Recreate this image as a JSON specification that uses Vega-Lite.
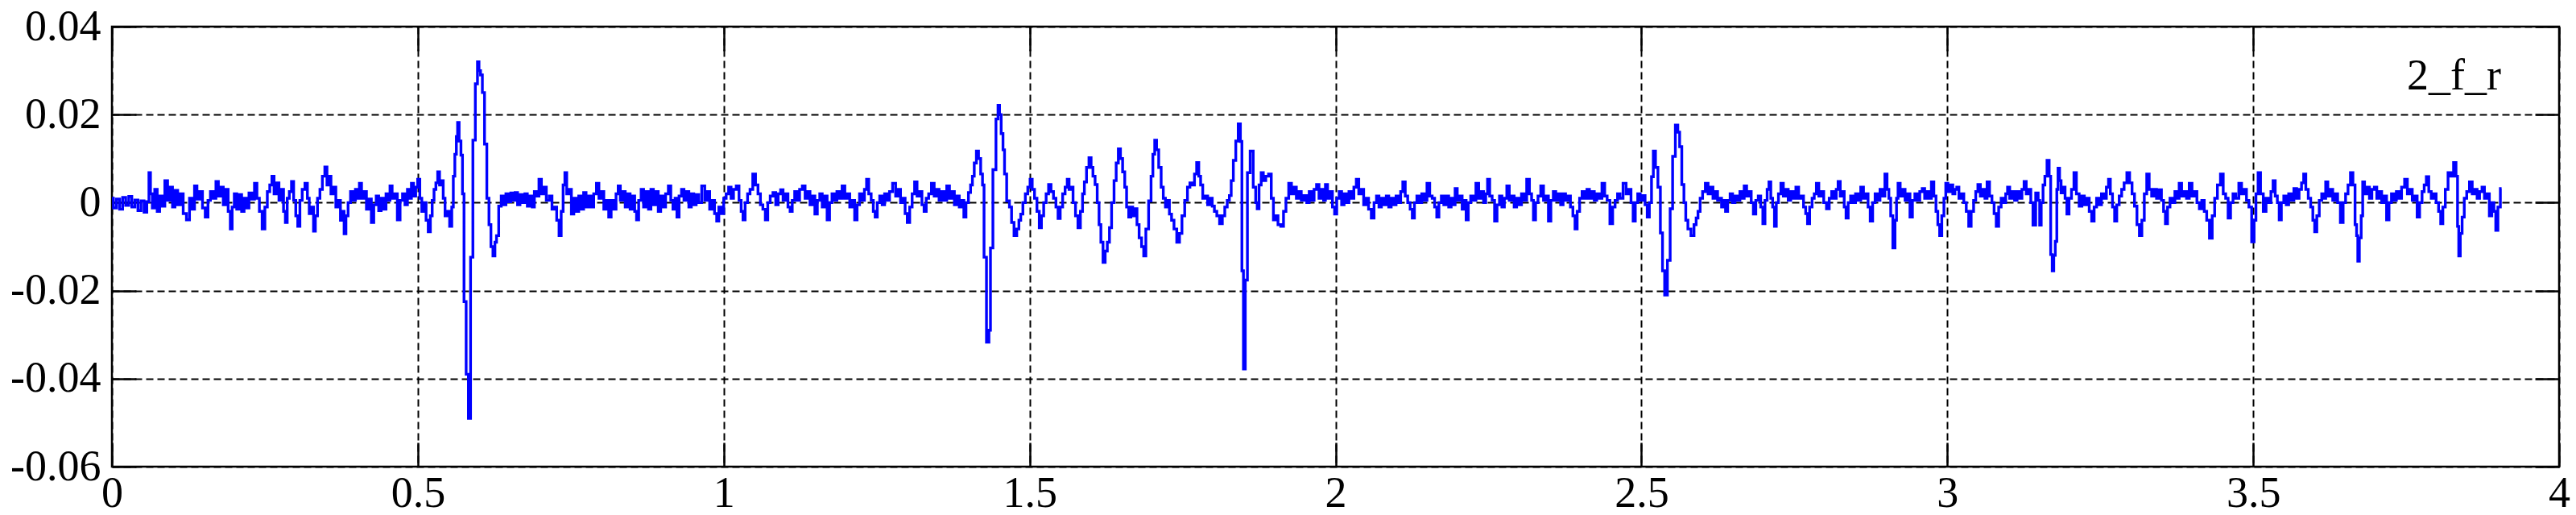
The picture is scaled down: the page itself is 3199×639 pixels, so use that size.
{
"$schema": "https://vega.github.io/schema/vega-lite/v6.json",
"width": 3039, "height": 546,
"autosize": {"type": "none"},
"padding": {"left": 139, "top": 33, "right": 21, "bottom": 60},
"background": "white",
"config": {"view": {"stroke": "black", "strokeWidth": 2.5}},
"data": {"values": [
{"t":0.000,"v":0.0010},{"t":0.005,"v":-0.0012},{"t":0.010,"v":0.0008},{"t":0.015,"v":-0.0015},{"t":0.020,"v":0.0012},{"t":0.025,"v":-0.0006},{"t":0.030,"v":0.0014},{"t":0.035,"v":-0.0010},{"t":0.040,"v":0.0006},{"t":0.045,"v":-0.0018},{"t":0.050,"v":0.0004},{"t":0.055,"v":-0.0022},{"t":0.059,"v":0.0002},{"t":0.062,"v":0.0068},{"t":0.064,"v":0.0020},{"t":0.068,"v":-0.0012},{"t":0.072,"v":0.0030},{"t":0.076,"v":-0.0020},{"t":0.080,"v":0.0015},{"t":0.084,"v":-0.0008},{"t":0.089,"v":0.0050},{"t":0.093,"v":0.0005},{"t":0.097,"v":0.0035},{"t":0.101,"v":-0.0010},{"t":0.105,"v":0.0028},{"t":0.110,"v":-0.0005},{"t":0.114,"v":0.0020},{"t":0.119,"v":-0.0025},{"t":0.1246,"v":-0.0039},{"t":0.129,"v":0.0010},{"t":0.133,"v":-0.0015},{"t":0.137,"v":0.0038},{"t":0.141,"v":0.0008},{"t":0.146,"v":0.0025},{"t":0.150,"v":-0.0012},{"t":0.155,"v":-0.0033},{"t":0.159,"v":0.0005},{"t":0.163,"v":0.0025},{"t":0.168,"v":0.0010},{"t":0.172,"v":0.0048},{"t":0.176,"v":0.0015},{"t":0.180,"v":0.0035},{"t":0.184,"v":-0.0005},{"t":0.188,"v":0.0030},{"t":0.192,"v":-0.0020},{"t":0.195,"v":-0.0060},{"t":0.198,"v":-0.0010},{"t":0.202,"v":0.0020},{"t":0.206,"v":-0.0015},{"t":0.210,"v":0.0018},{"t":0.214,"v":-0.0020},{"t":0.218,"v":0.0010},{"t":0.222,"v":-0.0012},{"t":0.226,"v":0.0022},{"t":0.231,"v":0.0008},{"t":0.235,"v":0.0044},{"t":0.239,"v":0.0010},{"t":0.243,"v":-0.0020},{"t":0.248,"v":-0.0060},{"t":0.252,"v":-0.0010},{"t":0.256,"v":0.0025},{"t":0.260,"v":0.0040},{"t":0.263,"v":0.0060},{"t":0.267,"v":0.0020},{"t":0.271,"v":0.0045},{"t":0.275,"v":0.0005},{"t":0.279,"v":0.0030},{"t":0.282,"v":-0.0020},{"t":0.285,"v":-0.0045},{"t":0.288,"v":0.0010},{"t":0.292,"v":0.0025},{"t":0.295,"v":0.0048},{"t":0.299,"v":0.0005},{"t":0.302,"v":-0.0030},{"t":0.3055,"v":-0.0054},{"t":0.309,"v":0.0005},{"t":0.313,"v":0.0030},{"t":0.318,"v":0.0044},{"t":0.321,"v":0.0010},{"t":0.324,"v":-0.0025},{"t":0.328,"v":-0.0010},{"t":0.331,"v":-0.0065},{"t":0.334,"v":-0.0030},{"t":0.338,"v":0.0010},{"t":0.342,"v":0.0030},{"t":0.346,"v":0.0060},{"t":0.350,"v":0.0081},{"t":0.353,"v":0.0040},{"t":0.356,"v":0.0060},{"t":0.360,"v":0.0020},{"t":0.364,"v":0.0035},{"t":0.368,"v":-0.0010},{"t":0.372,"v":0.0005},{"t":0.375,"v":-0.0040},{"t":0.378,"v":-0.0020},{"t":0.381,"v":-0.0071},{"t":0.384,"v":-0.0030},{"t":0.388,"v":0.0000},{"t":0.392,"v":0.0025},{"t":0.396,"v":0.0005},{"t":0.400,"v":0.0030},{"t":0.403,"v":0.0010},{"t":0.406,"v":0.0044},{"t":0.410,"v":0.0010},{"t":0.414,"v":0.0025},{"t":0.418,"v":-0.0015},{"t":0.422,"v":0.0008},{"t":0.426,"v":-0.0045},{"t":0.430,"v":-0.0005},{"t":0.434,"v":0.0015},{"t":0.438,"v":-0.0018},{"t":0.442,"v":0.0010},{"t":0.446,"v":-0.0015},{"t":0.450,"v":0.0020},{"t":0.453,"v":0.0005},{"t":0.456,"v":0.0038},{"t":0.460,"v":0.0010},{"t":0.464,"v":0.0020},{"t":0.469,"v":-0.0039},{"t":0.473,"v":0.0005},{"t":0.477,"v":0.0020},{"t":0.481,"v":-0.0005},{"t":0.485,"v":0.0030},{"t":0.488,"v":0.0010},{"t":0.491,"v":0.0044},{"t":0.495,"v":0.0015},{"t":0.498,"v":0.0035},{"t":0.5015,"v":0.0053},{"t":0.505,"v":0.0010},{"t":0.508,"v":-0.0020},{"t":0.512,"v":0.0000},{"t":0.515,"v":-0.0040},{"t":0.519,"v":-0.0066},{"t":0.522,"v":-0.0030},{"t":0.525,"v":0.0005},{"t":0.528,"v":0.0030},{"t":0.531,"v":0.0045},{"t":0.534,"v":0.0070},{"t":0.537,"v":0.0040},{"t":0.540,"v":0.0050},{"t":0.543,"v":0.0010},{"t":0.546,"v":-0.0030},{"t":0.550,"v":-0.0020},{"t":0.554,"v":-0.0054},{"t":0.557,"v":-0.0010},{"t":0.559,"v":0.0060},{"t":0.562,"v":0.0110},{"t":0.564,"v":0.0150},{"t":0.566,"v":0.0182},{"t":0.569,"v":0.0140},{"t":0.572,"v":0.0108},{"t":0.574,"v":0.0020},{"t":0.577,"v":-0.0225},{"t":0.581,"v":-0.0390},{"t":0.5844,"v":-0.0490},{"t":0.588,"v":-0.0124},{"t":0.592,"v":0.0142},{"t":0.596,"v":0.0270},{"t":0.599,"v":0.0320},{"t":0.601,"v":0.0300},{"t":0.604,"v":0.0290},{"t":0.607,"v":0.0250},{"t":0.611,"v":0.0133},{"t":0.6146,"v":0.0010},{"t":0.618,"v":-0.0050},{"t":0.621,"v":-0.0100},{"t":0.6246,"v":-0.0121},{"t":0.6275,"v":-0.0090},{"t":0.6297,"v":-0.0075},{"t":0.6347,"v":-0.0008},{"t":0.638,"v":0.0015},{"t":0.642,"v":-0.0005},{"t":0.646,"v":0.0020},{"t":0.650,"v":0.0002},{"t":0.654,"v":0.0022},{"t":0.657,"v":0.0005},{"t":0.661,"v":0.0023},{"t":0.665,"v":-0.0005},{"t":0.669,"v":0.0018},{"t":0.673,"v":0.0000},{"t":0.677,"v":0.0020},{"t":0.681,"v":-0.0008},{"t":0.685,"v":0.0015},{"t":0.689,"v":-0.0010},{"t":0.692,"v":0.0025},{"t":0.696,"v":0.0015},{"t":0.700,"v":0.0053},{"t":0.704,"v":0.0020},{"t":0.708,"v":0.0035},{"t":0.712,"v":0.0005},{"t":0.7176,"v":0.0015},{"t":0.721,"v":-0.0015},{"t":0.725,"v":-0.0010},{"t":0.729,"v":-0.0040},{"t":0.7327,"v":-0.0075},{"t":0.736,"v":-0.0020},{"t":0.739,"v":0.0040},{"t":0.7417,"v":0.0068},{"t":0.745,"v":0.0020},{"t":0.749,"v":0.0030},{"t":0.753,"v":-0.0026},{"t":0.757,"v":0.0010},{"t":0.761,"v":-0.0020},{"t":0.765,"v":0.0015},{"t":0.769,"v":-0.0015},{"t":0.773,"v":0.0023},{"t":0.777,"v":-0.0010},
{"t":0.781,"v":0.0015},{"t":0.785,"v":-0.0010},{"t":0.790,"v":0.0020},{"t":0.794,"v":0.0044},{"t":0.798,"v":0.0010},{"t":0.802,"v":0.0025},{"t":0.806,"v":-0.0015},{"t":0.810,"v":0.0005},{"t":0.814,"v":-0.0033},{"t":0.818,"v":0.0005},{"t":0.822,"v":-0.0015},{"t":0.826,"v":0.0020},{"t":0.829,"v":0.0038},{"t":0.833,"v":0.0005},{"t":0.837,"v":0.0025},{"t":0.841,"v":-0.0010},{"t":0.845,"v":0.0020},{"t":0.849,"v":-0.0015},{"t":0.853,"v":0.0015},{"t":0.856,"v":-0.0020},{"t":0.859,"v":-0.0039},{"t":0.863,"v":0.0005},{"t":0.867,"v":0.0030},{"t":0.871,"v":-0.0010},{"t":0.875,"v":0.0025},{"t":0.879,"v":-0.0015},{"t":0.883,"v":0.0030},{"t":0.887,"v":-0.0005},{"t":0.891,"v":0.0025},{"t":0.895,"v":-0.0020},{"t":0.899,"v":0.0015},{"t":0.903,"v":-0.0010},{"t":0.907,"v":0.0020},{"t":0.912,"v":0.0038},{"t":0.915,"v":0.0005},{"t":0.919,"v":-0.0015},{"t":0.922,"v":0.0010},{"t":0.925,"v":-0.0033},{"t":0.929,"v":0.0015},{"t":0.933,"v":0.0030},{"t":0.937,"v":0.0005},{"t":0.941,"v":0.0025},{"t":0.945,"v":-0.0010},{"t":0.949,"v":0.0020},{"t":0.953,"v":-0.0005},{"t":0.957,"v":0.0018},{"t":0.961,"v":0.0000},{"t":0.967,"v":0.0038},{"t":0.971,"v":0.0005},{"t":0.975,"v":0.0025},{"t":0.979,"v":-0.0015},{"t":0.983,"v":0.0005},{"t":0.987,"v":-0.0025},{"t":0.990,"v":-0.0042},{"t":0.994,"v":-0.0010},{"t":0.998,"v":-0.0025},{"t":1.002,"v":0.0010},{"t":1.006,"v":0.0020},{"t":1.010,"v":0.0035},{"t":1.014,"v":0.0010},{"t":1.018,"v":0.0030},{"t":1.023,"v":0.0038},{"t":1.027,"v":0.0005},{"t":1.030,"v":-0.0020},{"t":1.033,"v":-0.0039},{"t":1.037,"v":0.0000},{"t":1.041,"v":0.0020},{"t":1.045,"v":0.0030},{"t":1.050,"v":0.0065},{"t":1.054,"v":0.0040},{"t":1.058,"v":0.0020},{"t":1.062,"v":-0.0005},{"t":1.066,"v":-0.0015},{"t":1.070,"v":-0.0039},{"t":1.074,"v":0.0000},{"t":1.078,"v":0.0015},{"t":1.083,"v":0.0023},{"t":1.087,"v":-0.0005},{"t":1.091,"v":0.0020},{"t":1.095,"v":0.0029},{"t":1.099,"v":0.0005},{"t":1.103,"v":0.0020},{"t":1.107,"v":-0.0010},{"t":1.110,"v":-0.0020},{"t":1.114,"v":0.0005},{"t":1.118,"v":0.0025},{"t":1.122,"v":0.0005},{"t":1.126,"v":0.0030},{"t":1.131,"v":0.0038},{"t":1.135,"v":0.0010},{"t":1.139,"v":0.0025},{"t":1.143,"v":-0.0005},{"t":1.147,"v":0.0015},{"t":1.151,"v":-0.0026},{"t":1.155,"v":0.0005},{"t":1.159,"v":0.0020},{"t":1.163,"v":-0.0010},{"t":1.167,"v":0.0015},{"t":1.171,"v":-0.0039},{"t":1.175,"v":0.0000},{"t":1.179,"v":0.0020},{"t":1.183,"v":0.0005},{"t":1.187,"v":0.0025},{"t":1.191,"v":0.0010},{"t":1.196,"v":0.0038},{"t":1.200,"v":0.0010},{"t":1.204,"v":0.0020},{"t":1.208,"v":-0.0010},{"t":1.212,"v":0.0005},{"t":1.216,"v":-0.0039},{"t":1.220,"v":-0.0005},{"t":1.224,"v":0.0020},{"t":1.228,"v":0.0005},{"t":1.232,"v":0.0030},{"t":1.235,"v":0.0053},{"t":1.239,"v":0.0020},{"t":1.243,"v":0.0005},{"t":1.246,"v":-0.0020},{"t":1.249,"v":-0.0033},{"t":1.253,"v":0.0000},{"t":1.257,"v":0.0015},{"t":1.261,"v":-0.0005},{"t":1.265,"v":0.0020},{"t":1.269,"v":0.0005},{"t":1.273,"v":0.0025},{"t":1.279,"v":0.0044},{"t":1.283,"v":0.0015},{"t":1.287,"v":0.0030},{"t":1.291,"v":0.0000},{"t":1.295,"v":0.0010},{"t":1.298,"v":-0.0025},{"t":1.302,"v":-0.0045},{"t":1.306,"v":-0.0010},{"t":1.310,"v":0.0020},{"t":1.314,"v":0.0047},{"t":1.318,"v":0.0015},{"t":1.322,"v":0.0025},{"t":1.326,"v":-0.0005},{"t":1.329,"v":-0.0020},{"t":1.333,"v":0.0010},{"t":1.337,"v":0.0020},{"t":1.342,"v":0.0044},{"t":1.346,"v":0.0015},{"t":1.350,"v":0.0030},{"t":1.354,"v":0.0005},{"t":1.358,"v":0.0025},{"t":1.362,"v":0.0005},{"t":1.367,"v":0.0038},{"t":1.371,"v":0.0010},{"t":1.375,"v":0.0025},{"t":1.379,"v":-0.0005},{"t":1.383,"v":0.0015},{"t":1.387,"v":-0.0010},{"t":1.391,"v":0.0005},{"t":1.394,"v":-0.0033},{"t":1.398,"v":0.0000},{"t":1.402,"v":0.0023},{"t":1.405,"v":0.0040},{"t":1.408,"v":0.0060},{"t":1.411,"v":0.0090},{"t":1.415,"v":0.0117},{"t":1.418,"v":0.0100},{"t":1.422,"v":0.0065},{"t":1.424,"v":0.0040},{"t":1.427,"v":-0.0124},{"t":1.432,"v":-0.0317},{"t":1.435,"v":-0.0290},{"t":1.437,"v":-0.0103},{"t":1.443,"v":0.0075},{"t":1.447,"v":0.0190},{"t":1.4497,"v":0.0221},{"t":1.452,"v":0.0200},{"t":1.455,"v":0.0157},{"t":1.458,"v":0.0120},{"t":1.460,"v":0.0065},{"t":1.465,"v":0.0004},{"t":1.469,"v":-0.0010},{"t":1.472,"v":-0.0045},{"t":1.477,"v":-0.0075},{"t":1.481,"v":-0.0060},{"t":1.484,"v":-0.0040},{"t":1.487,"v":-0.0026},{"t":1.491,"v":0.0000},{"t":1.495,"v":0.0020},{"t":1.499,"v":0.0035},{"t":1.5025,"v":0.0053},{"t":1.506,"v":0.0030},{"t":1.510,"v":0.0010},{"t":1.514,"v":-0.0020},{"t":1.5176,"v":-0.0057},{"t":1.521,"v":-0.0030},{"t":1.525,"v":0.0000},{"t":1.529,"v":0.0020},{"t":1.533,"v":0.0041},{"t":1.537,"v":0.0025},{"t":1.541,"v":0.0010},{"t":1.545,"v":-0.0010},{"t":1.548,"v":-0.0036},{"t":1.552,"v":-0.0010},{"t":1.556,"v":0.0020},{"t":1.560,"v":0.0035},{"t":1.563,"v":0.0053},
{"t":1.566,"v":0.0030},{"t":1.569,"v":0.0035},{"t":1.573,"v":0.0000},{"t":1.577,"v":-0.0030},{"t":1.581,"v":-0.0057},{"t":1.585,"v":-0.0020},{"t":1.588,"v":0.0020},{"t":1.591,"v":0.0047},{"t":1.595,"v":0.0080},{"t":1.599,"v":0.0102},{"t":1.602,"v":0.0080},{"t":1.605,"v":0.0060},{"t":1.609,"v":0.0041},{"t":1.612,"v":0.0000},{"t":1.615,"v":-0.0050},{"t":1.618,"v":-0.0090},{"t":1.622,"v":-0.0136},{"t":1.625,"v":-0.0110},{"t":1.629,"v":-0.0090},{"t":1.632,"v":-0.0057},{"t":1.636,"v":0.0000},{"t":1.640,"v":0.0050},{"t":1.643,"v":0.0090},{"t":1.647,"v":0.0122},{"t":1.650,"v":0.0100},{"t":1.654,"v":0.0070},{"t":1.657,"v":0.0035},{"t":1.660,"v":-0.0010},{"t":1.664,"v":-0.0033},{"t":1.667,"v":-0.0010},{"t":1.670,"v":-0.0030},{"t":1.674,"v":-0.0014},{"t":1.677,"v":-0.0050},{"t":1.681,"v":-0.0080},{"t":1.685,"v":-0.0100},{"t":1.688,"v":-0.0121},{"t":1.692,"v":-0.0060},{"t":1.697,"v":0.0004},{"t":1.700,"v":0.0060},{"t":1.703,"v":0.0110},{"t":1.706,"v":0.0142},{"t":1.709,"v":0.0120},{"t":1.713,"v":0.0080},{"t":1.717,"v":0.0035},{"t":1.720,"v":0.0010},{"t":1.724,"v":-0.0010},{"t":1.727,"v":0.0005},{"t":1.730,"v":-0.0026},{"t":1.734,"v":-0.0040},{"t":1.738,"v":-0.0060},{"t":1.743,"v":-0.0090},{"t":1.747,"v":-0.0070},{"t":1.751,"v":-0.0030},{"t":1.756,"v":0.0005},{"t":1.760,"v":0.0035},{"t":1.764,"v":0.0045},{"t":1.768,"v":0.0040},{"t":1.771,"v":0.0065},{"t":1.775,"v":0.0091},{"t":1.778,"v":0.0060},{"t":1.781,"v":0.0040},{"t":1.785,"v":0.0010},{"t":1.789,"v":0.0015},{"t":1.793,"v":-0.0005},{"t":1.797,"v":0.0010},{"t":1.800,"v":-0.0008},{"t":1.804,"v":-0.0020},{"t":1.808,"v":-0.0030},{"t":1.813,"v":-0.0048},{"t":1.817,"v":-0.0030},{"t":1.821,"v":-0.0010},{"t":1.825,"v":0.0005},{"t":1.828,"v":0.0016},{"t":1.831,"v":0.0050},{"t":1.835,"v":0.0096},{"t":1.839,"v":0.0140},{"t":1.843,"v":0.0179},{"t":1.846,"v":0.0139},{"t":1.848,"v":-0.0155},{"t":1.851,"v":-0.0378},{"t":1.854,"v":-0.0176},{"t":1.858,"v":0.0068},{"t":1.863,"v":0.0117},{"t":1.868,"v":0.0035},{"t":1.871,"v":0.0000},{"t":1.873,"v":-0.0014},{"t":1.877,"v":0.0040},{"t":1.880,"v":0.0068},{"t":1.884,"v":0.0050},{"t":1.888,"v":0.0060},{"t":1.893,"v":0.0065},{"t":1.897,"v":0.0010},{"t":1.900,"v":-0.0039},{"t":1.904,"v":-0.0030},{"t":1.908,"v":-0.0050},{"t":1.913,"v":-0.0054},{"t":1.917,"v":-0.0020},{"t":1.921,"v":0.0010},{"t":1.926,"v":0.0044},{"t":1.930,"v":0.0020},{"t":1.934,"v":0.0035},{"t":1.938,"v":0.0010},{"t":1.942,"v":0.0025},{"t":1.946,"v":0.0005},{"t":1.951,"v":0.0016},{"t":1.955,"v":0.0000},{"t":1.959,"v":0.0025},{"t":1.963,"v":0.0005},{"t":1.967,"v":0.0030},{"t":1.971,"v":0.0041},{"t":1.975,"v":0.0010},{"t":1.979,"v":0.0030},{"t":1.982,"v":0.0005},{"t":1.985,"v":0.0041},{"t":1.989,"v":0.0010},{"t":1.993,"v":0.0025},{"t":1.997,"v":-0.0010},{"t":2.000,"v":-0.0026},{"t":2.004,"v":0.0010},{"t":2.008,"v":0.0025},{"t":2.012,"v":-0.0005},{"t":2.016,"v":0.0020},{"t":2.020,"v":0.0000},{"t":2.024,"v":0.0025},{"t":2.028,"v":0.0010},{"t":2.032,"v":0.0035},{"t":2.036,"v":0.0053},{"t":2.040,"v":0.0020},{"t":2.044,"v":0.0030},{"t":2.048,"v":-0.0005},{"t":2.052,"v":0.0010},{"t":2.056,"v":-0.0015},{"t":2.061,"v":-0.0035},{"t":2.065,"v":0.0000},{"t":2.069,"v":0.0015},{"t":2.073,"v":-0.0010},{"t":2.077,"v":0.0010},{"t":2.081,"v":-0.0005},{"t":2.085,"v":0.0015},{"t":2.089,"v":-0.0010},{"t":2.093,"v":0.0010},{"t":2.097,"v":-0.0005},{"t":2.101,"v":0.0015},{"t":2.105,"v":0.0000},{"t":2.108,"v":0.0025},{"t":2.112,"v":0.0047},{"t":2.116,"v":0.0015},{"t":2.120,"v":0.0000},{"t":2.124,"v":-0.0015},{"t":2.127,"v":-0.0035},{"t":2.131,"v":0.0000},{"t":2.135,"v":0.0015},{"t":2.139,"v":0.0000},{"t":2.143,"v":0.0020},{"t":2.147,"v":0.0005},{"t":2.152,"v":0.0044},{"t":2.156,"v":0.0015},{"t":2.160,"v":0.0010},{"t":2.164,"v":-0.0010},{"t":2.167,"v":-0.0033},{"t":2.171,"v":0.0000},{"t":2.175,"v":0.0015},{"t":2.179,"v":-0.0005},{"t":2.183,"v":0.0015},{"t":2.187,"v":-0.0010},{"t":2.191,"v":0.0010},{"t":2.194,"v":-0.0005},{"t":2.197,"v":0.0032},{"t":2.201,"v":0.0005},{"t":2.205,"v":0.0015},{"t":2.209,"v":-0.0015},{"t":2.212,"v":0.0005},{"t":2.215,"v":-0.0039},{"t":2.219,"v":0.0000},{"t":2.223,"v":0.0015},{"t":2.227,"v":0.0005},{"t":2.232,"v":0.0044},{"t":2.236,"v":0.0010},{"t":2.240,"v":0.0025},{"t":2.244,"v":0.0000},{"t":2.247,"v":0.0020},{"t":2.250,"v":0.0053},{"t":2.254,"v":0.0015},{"t":2.258,"v":0.0005},{"t":2.262,"v":-0.0042},{"t":2.266,"v":-0.0005},{"t":2.270,"v":0.0015},{"t":2.274,"v":-0.0010},{"t":2.278,"v":0.0010},{"t":2.282,"v":0.0038},{"t":2.286,"v":0.0005},{"t":2.290,"v":0.0015},{"t":2.294,"v":-0.0010},{"t":2.298,"v":0.0010},{"t":2.302,"v":-0.0005},{"t":2.306,"v":0.0020},{"t":2.310,"v":0.0005},{"t":2.315,"v":0.0053},{"t":2.319,"v":0.0020},{"t":2.322,"v":0.0005},{"t":2.325,"v":-0.0039},{"t":2.329,"v":0.0000},{"t":2.333,"v":0.0015},{"t":2.338,"v":0.0038},{"t":2.342,"v":0.0005},{"t":2.346,"v":0.0015},{"t":2.350,"v":-0.0042},
{"t":2.354,"v":0.0005},{"t":2.358,"v":0.0025},{"t":2.362,"v":0.0005},{"t":2.366,"v":0.0020},{"t":2.370,"v":-0.0005},{"t":2.374,"v":0.0020},{"t":2.378,"v":0.0005},{"t":2.382,"v":0.0015},{"t":2.386,"v":-0.0010},{"t":2.390,"v":-0.0030},{"t":2.393,"v":-0.0060},{"t":2.397,"v":-0.0020},{"t":2.401,"v":0.0010},{"t":2.405,"v":0.0025},{"t":2.409,"v":0.0010},{"t":2.413,"v":0.0030},{"t":2.417,"v":0.0010},{"t":2.421,"v":0.0025},{"t":2.425,"v":0.0005},{"t":2.429,"v":0.0020},{"t":2.433,"v":0.0010},{"t":2.438,"v":0.0044},{"t":2.442,"v":0.0015},{"t":2.446,"v":0.0005},{"t":2.451,"v":-0.0048},{"t":2.455,"v":-0.0010},{"t":2.459,"v":0.0005},{"t":2.463,"v":0.0020},{"t":2.467,"v":0.0010},{"t":2.473,"v":0.0044},{"t":2.477,"v":0.0020},{"t":2.481,"v":0.0030},{"t":2.485,"v":0.0000},{"t":2.488,"v":-0.0042},{"t":2.492,"v":0.0000},{"t":2.496,"v":0.0020},{"t":2.500,"v":0.0005},{"t":2.504,"v":0.0016},{"t":2.508,"v":-0.0005},{"t":2.511,"v":-0.0033},{"t":2.515,"v":0.0000},{"t":2.518,"v":0.0059},{"t":2.521,"v":0.0117},{"t":2.525,"v":0.0080},{"t":2.529,"v":0.0035},{"t":2.533,"v":-0.0069},{"t":2.536,"v":-0.0155},{"t":2.540,"v":-0.0210},{"t":2.545,"v":-0.0131},{"t":2.549,"v":-0.0014},{"t":2.553,"v":0.0105},{"t":2.558,"v":0.0176},{"t":2.561,"v":0.0160},{"t":2.564,"v":0.0127},{"t":2.568,"v":0.0041},{"t":2.571,"v":0.0000},{"t":2.574,"v":-0.0040},{"t":2.578,"v":-0.0060},{"t":2.584,"v":-0.0075},{"t":2.588,"v":-0.0050},{"t":2.591,"v":-0.0035},{"t":2.594,"v":-0.0020},{"t":2.598,"v":0.0010},{"t":2.602,"v":0.0025},{"t":2.607,"v":0.0044},{"t":2.611,"v":0.0020},{"t":2.615,"v":0.0035},{"t":2.619,"v":0.0010},{"t":2.623,"v":0.0025},{"t":2.626,"v":0.0005},{"t":2.629,"v":0.0010},{"t":2.633,"v":-0.0010},{"t":2.636,"v":0.0005},{"t":2.639,"v":-0.0020},{"t":2.643,"v":0.0005},{"t":2.647,"v":0.0020},{"t":2.651,"v":0.0000},{"t":2.655,"v":0.0015},{"t":2.659,"v":0.0005},{"t":2.663,"v":0.0025},{"t":2.666,"v":0.0010},{"t":2.670,"v":0.0038},{"t":2.674,"v":0.0015},{"t":2.678,"v":0.0025},{"t":2.681,"v":0.0000},{"t":2.685,"v":-0.0026},{"t":2.689,"v":0.0005},{"t":2.693,"v":0.0015},{"t":2.697,"v":-0.0010},{"t":2.700,"v":-0.0048},{"t":2.704,"v":0.0005},{"t":2.707,"v":0.0030},{"t":2.710,"v":0.0047},{"t":2.713,"v":0.0010},{"t":2.716,"v":-0.0010},{"t":2.719,"v":-0.0054},{"t":2.722,"v":0.0000},{"t":2.726,"v":0.0020},{"t":2.730,"v":0.0044},{"t":2.734,"v":0.0015},{"t":2.738,"v":0.0030},{"t":2.742,"v":0.0005},{"t":2.746,"v":0.0025},{"t":2.750,"v":0.0010},{"t":2.755,"v":0.0035},{"t":2.759,"v":0.0010},{"t":2.763,"v":0.0015},{"t":2.767,"v":-0.0010},{"t":2.770,"v":-0.0025},{"t":2.773,"v":-0.0048},{"t":2.777,"v":-0.0010},{"t":2.781,"v":0.0010},{"t":2.784,"v":0.0020},{"t":2.788,"v":0.0044},{"t":2.792,"v":0.0015},{"t":2.796,"v":0.0025},{"t":2.800,"v":0.0000},{"t":2.805,"v":-0.0014},{"t":2.809,"v":0.0010},{"t":2.813,"v":0.0025},{"t":2.817,"v":0.0010},{"t":2.820,"v":0.0030},{"t":2.823,"v":0.0048},{"t":2.827,"v":0.0015},{"t":2.830,"v":0.0025},{"t":2.833,"v":-0.0010},{"t":2.836,"v":-0.0035},{"t":2.840,"v":0.0000},{"t":2.844,"v":0.0015},{"t":2.848,"v":0.0000},{"t":2.852,"v":0.0020},{"t":2.856,"v":0.0005},{"t":2.861,"v":0.0035},{"t":2.865,"v":0.0010},{"t":2.869,"v":0.0020},{"t":2.872,"v":-0.0010},{"t":2.876,"v":-0.0042},{"t":2.880,"v":0.0000},{"t":2.884,"v":0.0020},{"t":2.888,"v":0.0005},{"t":2.892,"v":0.0030},{"t":2.896,"v":0.0015},{"t":2.900,"v":0.0065},{"t":2.903,"v":0.0030},{"t":2.906,"v":0.0010},{"t":2.909,"v":-0.0030},{"t":2.913,"v":-0.0103},{"t":2.916,"v":-0.0040},{"t":2.918,"v":0.0010},{"t":2.921,"v":0.0044},{"t":2.925,"v":0.0015},{"t":2.929,"v":0.0030},{"t":2.933,"v":0.0005},{"t":2.937,"v":0.0020},{"t":2.941,"v":-0.0033},{"t":2.945,"v":0.0005},{"t":2.949,"v":0.0020},{"t":2.953,"v":0.0005},{"t":2.957,"v":0.0025},{"t":2.961,"v":0.0032},{"t":2.965,"v":0.0010},{"t":2.969,"v":0.0025},{"t":2.972,"v":0.0010},{"t":2.976,"v":0.0047},{"t":2.980,"v":0.0015},{"t":2.983,"v":-0.0020},{"t":2.986,"v":-0.0050},{"t":2.989,"v":-0.0075},{"t":2.993,"v":-0.0030},{"t":2.996,"v":0.0010},{"t":2.999,"v":0.0044},{"t":3.003,"v":0.0025},{"t":3.007,"v":0.0040},{"t":3.011,"v":0.0020},{"t":3.014,"v":0.0030},{"t":3.017,"v":0.0035},{"t":3.021,"v":0.0010},{"t":3.025,"v":0.0020},{"t":3.029,"v":0.0000},{"t":3.033,"v":-0.0020},{"t":3.037,"v":-0.0054},{"t":3.041,"v":-0.0020},{"t":3.045,"v":0.0005},{"t":3.048,"v":0.0025},{"t":3.052,"v":0.0041},{"t":3.056,"v":0.0015},{"t":3.060,"v":0.0030},{"t":3.063,"v":0.0010},{"t":3.067,"v":0.0047},{"t":3.071,"v":0.0015},{"t":3.075,"v":0.0000},{"t":3.078,"v":-0.0025},{"t":3.082,"v":-0.0054},{"t":3.086,"v":-0.0010},{"t":3.090,"v":0.0010},{"t":3.094,"v":0.0000},{"t":3.097,"v":0.0020},{"t":3.100,"v":0.0035},{"t":3.104,"v":0.0010},{"t":3.108,"v":0.0025},{"t":3.112,"v":0.0005},{"t":3.116,"v":0.0025},{"t":3.120,"v":0.0010},{"t":3.124,"v":0.0030},{"t":3.127,"v":0.0048},{"t":3.131,"v":0.0020},{"t":3.135,"v":0.0030},{"t":3.138,"v":0.0000},{"t":3.142,"v":-0.0051},
{"t":3.147,"v":0.0022},{"t":3.150,"v":0.0005},{"t":3.152,"v":-0.0051},{"t":3.155,"v":0.0000},{"t":3.158,"v":0.0040},{"t":3.161,"v":0.0060},{"t":3.165,"v":0.0096},{"t":3.168,"v":0.0060},{"t":3.170,"v":-0.0118},{"t":3.173,"v":-0.0155},{"t":3.175,"v":-0.0120},{"t":3.178,"v":-0.0088},{"t":3.180,"v":0.0030},{"t":3.182,"v":0.0078},{"t":3.185,"v":0.0050},{"t":3.187,"v":0.0022},{"t":3.191,"v":0.0035},{"t":3.194,"v":0.0010},{"t":3.197,"v":-0.0026},{"t":3.201,"v":0.0010},{"t":3.205,"v":0.0030},{"t":3.209,"v":0.0068},{"t":3.213,"v":0.0020},{"t":3.218,"v":-0.0008},{"t":3.222,"v":0.0015},{"t":3.226,"v":-0.0005},{"t":3.230,"v":0.0010},{"t":3.234,"v":-0.0020},{"t":3.238,"v":-0.0042},{"t":3.242,"v":-0.0010},{"t":3.246,"v":0.0010},{"t":3.250,"v":-0.0005},{"t":3.254,"v":0.0020},{"t":3.258,"v":0.0010},{"t":3.262,"v":0.0035},{"t":3.265,"v":0.0053},{"t":3.268,"v":0.0020},{"t":3.272,"v":-0.0010},{"t":3.275,"v":-0.0042},{"t":3.279,"v":-0.0005},{"t":3.283,"v":0.0015},{"t":3.287,"v":0.0030},{"t":3.291,"v":0.0045},{"t":3.296,"v":0.0068},{"t":3.300,"v":0.0045},{"t":3.304,"v":0.0020},{"t":3.308,"v":-0.0008},{"t":3.312,"v":-0.0050},{"t":3.316,"v":-0.0075},{"t":3.320,"v":-0.0040},{"t":3.324,"v":0.0020},{"t":3.328,"v":0.0065},{"t":3.332,"v":0.0030},{"t":3.336,"v":0.0015},{"t":3.340,"v":0.0030},{"t":3.344,"v":0.0010},{"t":3.348,"v":0.0029},{"t":3.352,"v":0.0005},{"t":3.355,"v":-0.0020},{"t":3.358,"v":-0.0048},{"t":3.362,"v":-0.0010},{"t":3.366,"v":0.0010},{"t":3.370,"v":0.0000},{"t":3.374,"v":0.0025},{"t":3.377,"v":0.0010},{"t":3.381,"v":0.0044},{"t":3.385,"v":0.0015},{"t":3.389,"v":0.0025},{"t":3.393,"v":0.0010},{"t":3.398,"v":0.0044},{"t":3.402,"v":0.0015},{"t":3.406,"v":0.0025},{"t":3.410,"v":0.0000},{"t":3.414,"v":-0.0014},{"t":3.418,"v":0.0005},{"t":3.422,"v":-0.0020},{"t":3.426,"v":-0.0040},{"t":3.431,"v":-0.0081},{"t":3.435,"v":-0.0030},{"t":3.439,"v":0.0010},{"t":3.444,"v":0.0040},{"t":3.449,"v":0.0065},{"t":3.453,"v":0.0020},{"t":3.457,"v":0.0010},{"t":3.461,"v":-0.0035},{"t":3.465,"v":0.0000},{"t":3.469,"v":0.0020},{"t":3.474,"v":0.0010},{"t":3.479,"v":0.0044},{"t":3.483,"v":0.0020},{"t":3.487,"v":0.0030},{"t":3.491,"v":0.0005},{"t":3.495,"v":-0.0010},{"t":3.500,"v":-0.0089},{"t":3.503,"v":-0.0040},{"t":3.506,"v":0.0020},{"t":3.510,"v":0.0068},{"t":3.514,"v":0.0020},{"t":3.519,"v":-0.0020},{"t":3.523,"v":0.0010},{"t":3.527,"v":0.0000},{"t":3.531,"v":0.0025},{"t":3.534,"v":0.0050},{"t":3.538,"v":0.0015},{"t":3.541,"v":0.0000},{"t":3.544,"v":-0.0039},{"t":3.548,"v":0.0000},{"t":3.552,"v":0.0015},{"t":3.556,"v":-0.0005},{"t":3.560,"v":0.0020},{"t":3.564,"v":0.0005},{"t":3.569,"v":0.0032},{"t":3.573,"v":0.0010},{"t":3.577,"v":0.0030},{"t":3.581,"v":0.0045},{"t":3.584,"v":0.0065},{"t":3.588,"v":0.0030},{"t":3.592,"v":0.0010},{"t":3.596,"v":-0.0010},{"t":3.599,"v":-0.0040},{"t":3.602,"v":-0.0066},{"t":3.606,"v":-0.0030},{"t":3.610,"v":0.0005},{"t":3.614,"v":0.0020},{"t":3.617,"v":0.0010},{"t":3.620,"v":0.0047},{"t":3.624,"v":0.0015},{"t":3.628,"v":0.0030},{"t":3.632,"v":0.0005},{"t":3.636,"v":0.0020},{"t":3.640,"v":0.0000},{"t":3.645,"v":-0.0045},{"t":3.649,"v":0.0000},{"t":3.653,"v":0.0020},{"t":3.657,"v":0.0040},{"t":3.661,"v":0.0068},{"t":3.665,"v":0.0040},{"t":3.668,"v":-0.0050},{"t":3.670,"v":-0.0075},{"t":3.672,"v":-0.0133},{"t":3.675,"v":-0.0080},{"t":3.678,"v":-0.0030},{"t":3.680,"v":0.0047},{"t":3.684,"v":0.0020},{"t":3.688,"v":0.0035},{"t":3.692,"v":0.0010},{"t":3.696,"v":0.0030},{"t":3.700,"v":0.0035},{"t":3.704,"v":0.0010},{"t":3.708,"v":0.0025},{"t":3.712,"v":0.0000},{"t":3.716,"v":0.0015},{"t":3.720,"v":-0.0039},{"t":3.724,"v":0.0000},{"t":3.728,"v":0.0020},{"t":3.732,"v":0.0005},{"t":3.736,"v":0.0025},{"t":3.740,"v":0.0010},{"t":3.745,"v":0.0035},{"t":3.750,"v":0.0053},{"t":3.754,"v":0.0020},{"t":3.758,"v":0.0030},{"t":3.762,"v":0.0005},{"t":3.766,"v":0.0015},{"t":3.770,"v":-0.0033},{"t":3.774,"v":0.0000},{"t":3.778,"v":0.0025},{"t":3.781,"v":0.0040},{"t":3.785,"v":0.0059},{"t":3.789,"v":0.0025},{"t":3.793,"v":0.0010},{"t":3.797,"v":0.0020},{"t":3.801,"v":0.0000},{"t":3.805,"v":-0.0020},{"t":3.808,"v":-0.0048},{"t":3.812,"v":-0.0010},{"t":3.816,"v":0.0030},{"t":3.821,"v":0.0068},{"t":3.825,"v":0.0060},{"t":3.830,"v":0.0091},{"t":3.833,"v":0.0060},{"t":3.835,"v":-0.0054},{"t":3.837,"v":-0.0121},{"t":3.840,"v":-0.0070},{"t":3.843,"v":-0.0033},{"t":3.847,"v":0.0010},{"t":3.851,"v":0.0025},{"t":3.856,"v":0.0047},{"t":3.860,"v":0.0020},{"t":3.864,"v":0.0030},{"t":3.868,"v":0.0010},{"t":3.872,"v":0.0025},{"t":3.876,"v":0.0035},{"t":3.880,"v":0.0010},{"t":3.884,"v":0.0020},{"t":3.888,"v":-0.0030},{"t":3.892,"v":0.0000},{"t":3.895,"v":-0.0020},{"t":3.898,"v":-0.0063},{"t":3.902,"v":-0.0010},{"t":3.906,"v":0.0032}
]},
"layer": [
{
"mark": {"type": "line", "interpolate": "step", "strokeWidth": 3.4},
"encoding": {
"x": {"field": "t", "type": "quantitative", "scale": {"domain": [0, 4], "nice": false, "zero": false},
"axis": {"orient": "bottom", "title": null, "values": [0, 0.5, 1, 1.5, 2, 2.5, 3, 3.5, 4], "format": "~g", "domain": false, "grid": true, "gridColor": "black", "gridOpacity": 1, "gridDash": [9, 5], "gridWidth": 2, "ticks": true, "tickSize": -30, "tickColor": "black", "tickWidth": 2.5, "labelFont": "Liberation Serif", "labelFontSize": 54, "labelColor": "black", "labelPadding": 36, "labelFlush": false, "labelOverlap": false, "labelBound": false}},
"y": {"field": "v", "type": "quantitative", "scale": {"domain": [-0.06, 0.04], "nice": false, "zero": false},
"axis": {"orient": "left", "title": null, "values": [-0.06, -0.04, -0.02, 0, 0.02, 0.04], "labelExpr": "datum.value == 0 ? '0' : (datum.value < 0 ? '-' : '') + format(abs(datum.value), '.2f')", "domain": false, "grid": true, "gridColor": "black", "gridOpacity": 1, "gridDash": [9, 5], "gridWidth": 2, "ticks": true, "tickSize": -30, "tickColor": "black", "tickWidth": 2.5, "labelFont": "Liberation Serif", "labelFontSize": 54, "labelColor": "black", "labelPadding": 44, "labelFlush": false, "labelOverlap": false, "labelBound": false}},
"color": {"datum": "2_f_r", "type": "nominal", "scale": {"range": ["#0000ff"]},
"legend": {"orient": "none", "legendX": 2791, "legendY": 30, "title": null, "labelFont": "Liberation Serif", "labelFontSize": 54, "labelColor": "black", "symbolSize": 0, "symbolStrokeWidth": 0, "symbolOpacity": 0, "labelOffset": 0, "padding": 5, "fillColor": "white"}}
}
},
{
"mark": {"type": "line", "opacity": 0},
"encoding": {
"x": {"field": "t", "type": "quantitative", "axis": {"orient": "top", "title": null, "values": [0, 0.5, 1, 1.5, 2, 2.5, 3, 3.5, 4], "labels": false, "domain": false, "grid": false, "ticks": true, "tickSize": -30, "tickColor": "black", "tickWidth": 2.5}},
"y": {"field": "v", "type": "quantitative", "axis": {"orient": "right", "title": null, "values": [-0.06, -0.04, -0.02, 0, 0.02, 0.04], "labels": false, "domain": false, "grid": false, "ticks": true, "tickSize": -30, "tickColor": "black", "tickWidth": 2.5}}
}
}
],
"resolve": {"axis": {"x": "independent", "y": "independent"}}
}
